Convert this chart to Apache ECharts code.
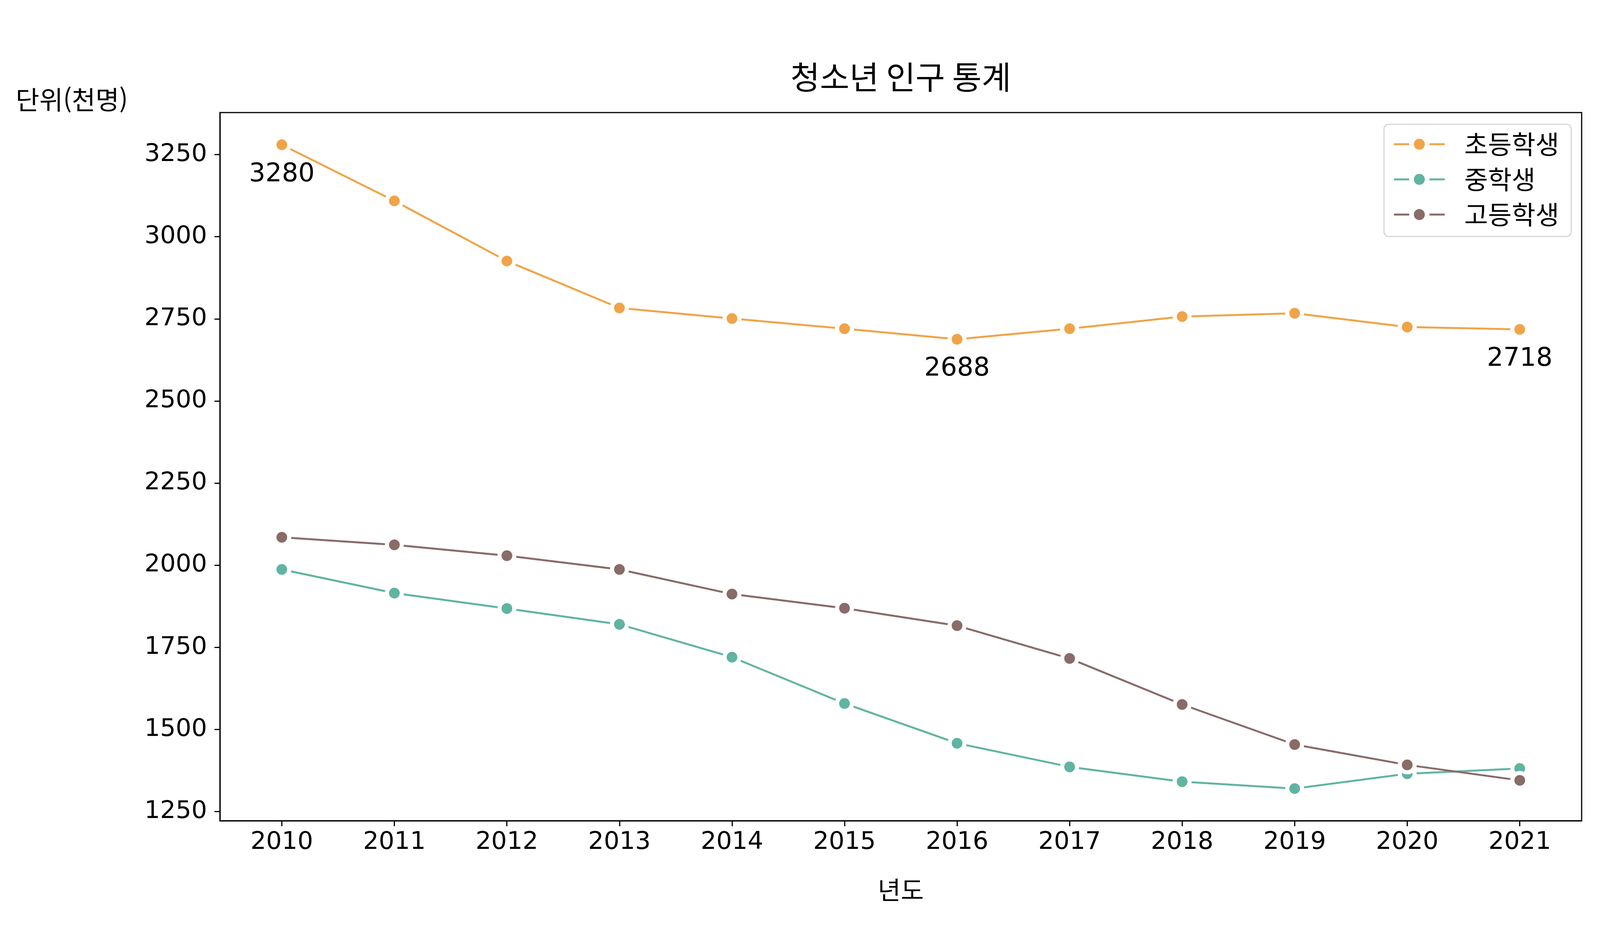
<!DOCTYPE html>
<html lang="ko">
<head>
    <meta charset="UTF-8">
    <title>청소년 인구 통계</title>
    <style>
        body { margin: 0; padding: 0; background: #fff; }
        #main { width: 4500px; height: 2400px; }
    </style>
</head>
<body>
    <div id="main"></div>
    <script src="https://cdn.jsdelivr.net/npm/echarts@6/dist/echarts.min.js"></script>
    <script>
    // 데이터 (단위: 천명)
    var years = [2010, 2011, 2012, 2013, 2014, 2015, 2016, 2017, 2018, 2019, 2020, 2021];
    var elementary = [3280, 3109, 2926, 2783, 2751, 2720, 2688, 2720, 2757, 2767, 2725, 2718];
    var middle = [1987, 1915, 1868, 1820, 1720, 1579, 1458, 1386, 1341, 1320, 1365, 1381];
    var high = [2085, 2062, 2029, 1987, 1912, 1869, 1816, 1716, 1576, 1454, 1392, 1345];
    var yTicks = [1250, 1500, 1750, 2000, 2250, 2500, 2750, 3000, 3250];
    var labeled = [0, 6, 11]; // 값 표시할 초등학생 인덱스

    var KR = 'Noto Sans CJK KR';
    var NUM = 'DejaVu Sans';
    var colors = ['#F0A448', '#60B4A1', '#896B67'];

    // matplotlib 처럼 5% 여백
    var all = elementary.concat(middle, high);
    var lo = Math.min.apply(null, all), hi = Math.max.apply(null, all);
    var yMin = lo - (hi - lo) * 0.05, yMax = hi + (hi - lo) * 0.05;
    var xPad = (years[years.length - 1] - years[0]) * 0.05;

    function pairs(vals, withLabels) {
        return vals.map(function (v, i) {
            var item = { value: [years[i], v] };
            if (withLabels && labeled.indexOf(i) >= 0) {
                item.label = { show: true };
            }
            return item;
        });
    }

    function lineSeries(name, vals, color, withLabels) {
        return {
            name: name,
            type: 'line',
            data: pairs(vals, withLabels),
            color: color,
            symbol: 'circle',
            symbolSize: 38,
            showAllSymbol: true,
            lineStyle: { width: 5, color: color },
            itemStyle: { color: color, borderColor: '#fff', borderWidth: 10.5 },
            label: {
                show: false,
                position: 'bottom',
                distance: 19,
                fontFamily: NUM,
                fontSize: 66,
                color: '#000',
                formatter: function (p) { return p.value[1]; }
            },
            emphasis: { disabled: true }
        };
    }

    var myChart = echarts.init(document.getElementById('main'), null, { renderer: 'canvas' });

    var option = {
        animation: false,
        backgroundColor: '#fff',
        title: [
            {
                text: '청소년 인구 통계',
                left: 2306,
                top: 156,
                padding: 0,
                textAlign: 'center',
                textStyle: { fontFamily: KR, fontSize: 82, fontWeight: 'normal', color: '#000' }
            },
            {
                text: '단위(천명)',
                left: 40,
                top: 222,
                padding: 0,
                textStyle: { fontFamily: KR, fontSize: 66, fontWeight: 'normal', color: '#000' }
            }
        ],
        legend: {
            orient: 'vertical',
            left: 3543,
            top: 318,
            padding: [18, 31, 23, 23],
            itemWidth: 130,
            itemHeight: 50,
            itemGap: 24,
            backgroundColor: 'rgba(255,255,255,0.8)',
            borderColor: '#d6d6d6',
            borderWidth: 3,
            borderRadius: 12,
            itemStyle: { borderColor: '#fff', borderWidth: 12 },
            lineStyle: { width: 5 },
            textStyle: { fontFamily: KR, fontSize: 66, color: '#000', padding: [0, 0, 0, 45] },
            data: ['초등학생', '중학생', '고등학생']
        },
        grid: {
            left: 563,
            right: 451,
            top: 288,
            bottom: 300,
            show: true,
            borderColor: '#000',
            borderWidth: 3,
            containLabel: false,
            outerBoundsMode: 'none'
        },
        xAxis: {
            type: 'value',
            min: years[0] - xPad,
            max: years[years.length - 1] + xPad,
            name: '년도',
            nameLocation: 'middle',
            nameGap: 145,
            nameTextStyle: { fontFamily: KR, fontSize: 64, color: '#000' },
            axisLine: { show: true, lineStyle: { color: '#000', width: 3 } },
            axisTick: { show: true, length: 14, lineStyle: { color: '#000', width: 3 }, customValues: years },
            axisLabel: {
                fontFamily: NUM, fontSize: 63, color: '#000', margin: 24,
                customValues: years,
                formatter: function (v) { return String(v); }
            },
            splitLine: { show: false }
        },
        yAxis: {
            type: 'value',
            min: yMin,
            max: yMax,
            axisLine: { show: true, lineStyle: { color: '#000', width: 3 } },
            axisTick: { show: true, length: 14, lineStyle: { color: '#000', width: 3 }, customValues: yTicks },
            axisLabel: {
                fontFamily: NUM, fontSize: 63, color: '#000', margin: 33,
                customValues: yTicks,
                formatter: function (v) { return String(v); }
            },
            splitLine: { show: false }
        },
        series: [
            lineSeries('초등학생', elementary, colors[0], true),
            lineSeries('중학생', middle, colors[1], false),
            lineSeries('고등학생', high, colors[2], false)
        ]
    };

    myChart.setOption(option);
    </script>
</body>
</html>
